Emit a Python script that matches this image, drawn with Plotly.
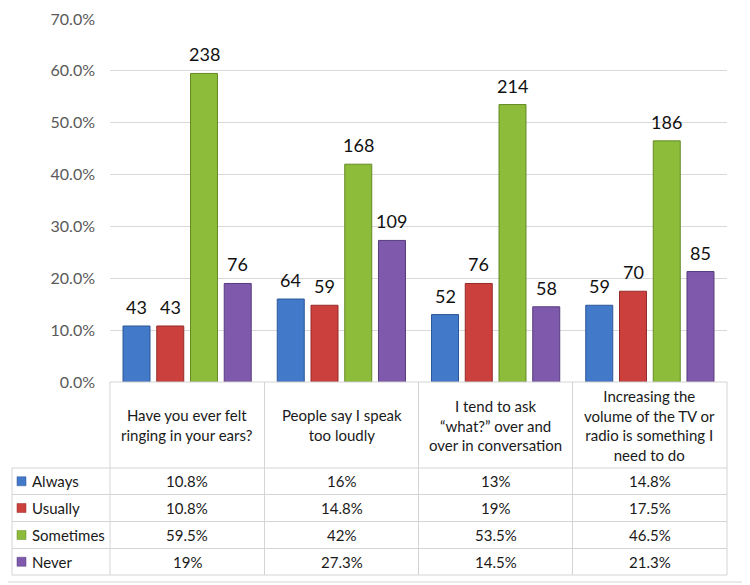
import plotly.graph_objects as go

# ---------------- data ----------------
categories = [
    "Have you ever felt<br>ringing in your ears?",
    "People say I speak<br>too loudly",
    "I tend to ask<br>“what?” over and<br>over in conversation",
    "Increasing the<br>volume of the TV or<br>radio is something I<br>need to do",
]
series_names = ["Always", "Usually", "Sometimes", "Never"]
always_pct = [10.8, 16, 13, 14.8]
usually_pct = [10.8, 14.8, 19, 17.5]
sometimes_pct = [59.5, 42, 53.5, 46.5]
never_pct = [19, 27.3, 14.5, 21.3]
always_n = [43, 64, 52, 59]
usually_n = [43, 59, 76, 70]
sometimes_n = [238, 168, 214, 186]
never_n = [76, 109, 58, 85]
y_ticks = [0, 10, 20, 30, 40, 50, 60, 70]

pcts = [always_pct, usually_pct, sometimes_pct, never_pct]
counts = [always_n, usually_n, sometimes_n, never_n]
colors = ["#4279C8", "#CB403D", "#8DBB3A", "#7E59AC"]
edges = ["#2C5796", "#952B29", "#648A24", "#573C7E"]

# ---------------- layout geometry (page has an 8px body margin) ----------------
OFF = 8
W, H = 750 - OFF, 585 - OFF
PLOT_L, PLOT_R, PLOT_T, PLOT_B = 110, 727, 19, 382  # target screen pixels
L, R, T = PLOT_L - OFF, W - (PLOT_R - OFF), PLOT_T - OFF
B = H - (PLOT_B - OFF)
PW, PH = W - L - R, H - T - B
BARGAP, BARGROUPGAP = 0.125, 0.2
FONT = "Lato"


def px(x):
    return (x - OFF - L) / PW


def py(y):
    return (H - B - (y - OFF)) / PH


fig = go.Figure()
idx = list(range(len(categories)))
for k, name in enumerate(series_names):
    fig.add_trace(go.Bar(
        x=idx, y=pcts[k], name=name,
        marker=dict(color=colors[k], line=dict(color=edges[k], width=1)),
        hoverinfo="y+name",
    ))

annotations = []
slot = (1 - BARGAP) / len(series_names)
for k in range(len(series_names)):
    for i in idx:
        annotations.append(dict(
            x=i - (1 - BARGAP) / 2 + slot * (k + 0.5), y=pcts[k][i],
            xref="x", yref="y", text=str(counts[k][i]), showarrow=False,
            yanchor="bottom", yshift=6,
            font=dict(family=FONT, size=18, color="#111111"),
        ))

# ---------------- data table ----------------
line_col = "#D4D4D4"
shapes = []
col_x = [110, 264.5, 418.5, 572.5, 727]
row_y = [382, 468, 494.5, 521.5, 548.5, 575]
left_x = 12


def hline(x0, x1, y):
    shapes.append(dict(type="line", xref="paper", yref="paper",
                       x0=px(x0), x1=px(x1), y0=py(y), y1=py(y),
                       line=dict(color=line_col, width=1)))


def vline(x, y0, y1):
    shapes.append(dict(type="line", xref="paper", yref="paper",
                       x0=px(x), x1=px(x), y0=py(y0), y1=py(y1),
                       line=dict(color=line_col, width=1)))


hline(110, 727, 382)
for y in row_y[1:]:
    hline(left_x, 727, y)
for x in col_x:
    vline(x, 382, 575)
vline(left_x, 468, 575)

# outer chart border (right / bottom)
vline(746.5, 8, 582)
hline(8, 746.5, 582)

# category headers
for i, cat in enumerate(categories):
    annotations.append(dict(
        x=px((col_x[i] + col_x[i + 1]) / 2), y=py((row_y[0] + row_y[1]) / 2),
        xref="paper", yref="paper", text=cat, showarrow=False,
        xanchor="center", yanchor="middle", align="center",
        font=dict(family=FONT, size=15, color="#1a1a1a"),
    ))

# rows
for k, name in enumerate(series_names):
    yc = (row_y[k + 1] + row_y[k + 2]) / 2
    shapes.append(dict(type="rect", xref="paper", yref="paper",
                       x0=px(17), x1=px(26), y0=py(yc - 4.5), y1=py(yc + 4.5),
                       fillcolor=colors[k], line=dict(color=edges[k], width=0.5)))
    annotations.append(dict(
        x=px(30), y=py(yc), xref="paper", yref="paper", text=name,
        showarrow=False, xanchor="left", yanchor="middle",
        font=dict(family=FONT, size=15, color="#1a1a1a"),
    ))
    for i in idx:
        annotations.append(dict(
            x=px((col_x[i] + col_x[i + 1]) / 2), y=py(yc),
            xref="paper", yref="paper", text=f"{pcts[k][i]:g}%",
            showarrow=False, xanchor="center", yanchor="middle",
            font=dict(family=FONT, size=15, color="#1a1a1a"),
        ))

fig.update_layout(
    width=W, height=H,
    margin=dict(l=L, r=R, t=T, b=B, pad=0, autoexpand=False),
    paper_bgcolor="white", plot_bgcolor="white",
    barmode="group", bargap=BARGAP, bargroupgap=BARGROUPGAP,
    showlegend=False,
    font=dict(family=FONT),
    xaxis=dict(range=[-0.5, len(categories) - 0.5], showticklabels=False,
               showgrid=False, zeroline=False, showline=False, fixedrange=True,
               automargin=False),
    yaxis=dict(range=[0, 70], tickvals=y_ticks,
               ticktext=[f"{v:.1f}%" for v in y_ticks],
               showgrid=True, gridcolor="#D9D9D9", gridwidth=1,
               zeroline=False, showline=False, ticks="", automargin=False,
               ticklabelstandoff=14,
               tickfont=dict(family=FONT, size=16, color="#595959")),
    shapes=shapes,
    annotations=annotations,
)

fig.write_html("out.html")
